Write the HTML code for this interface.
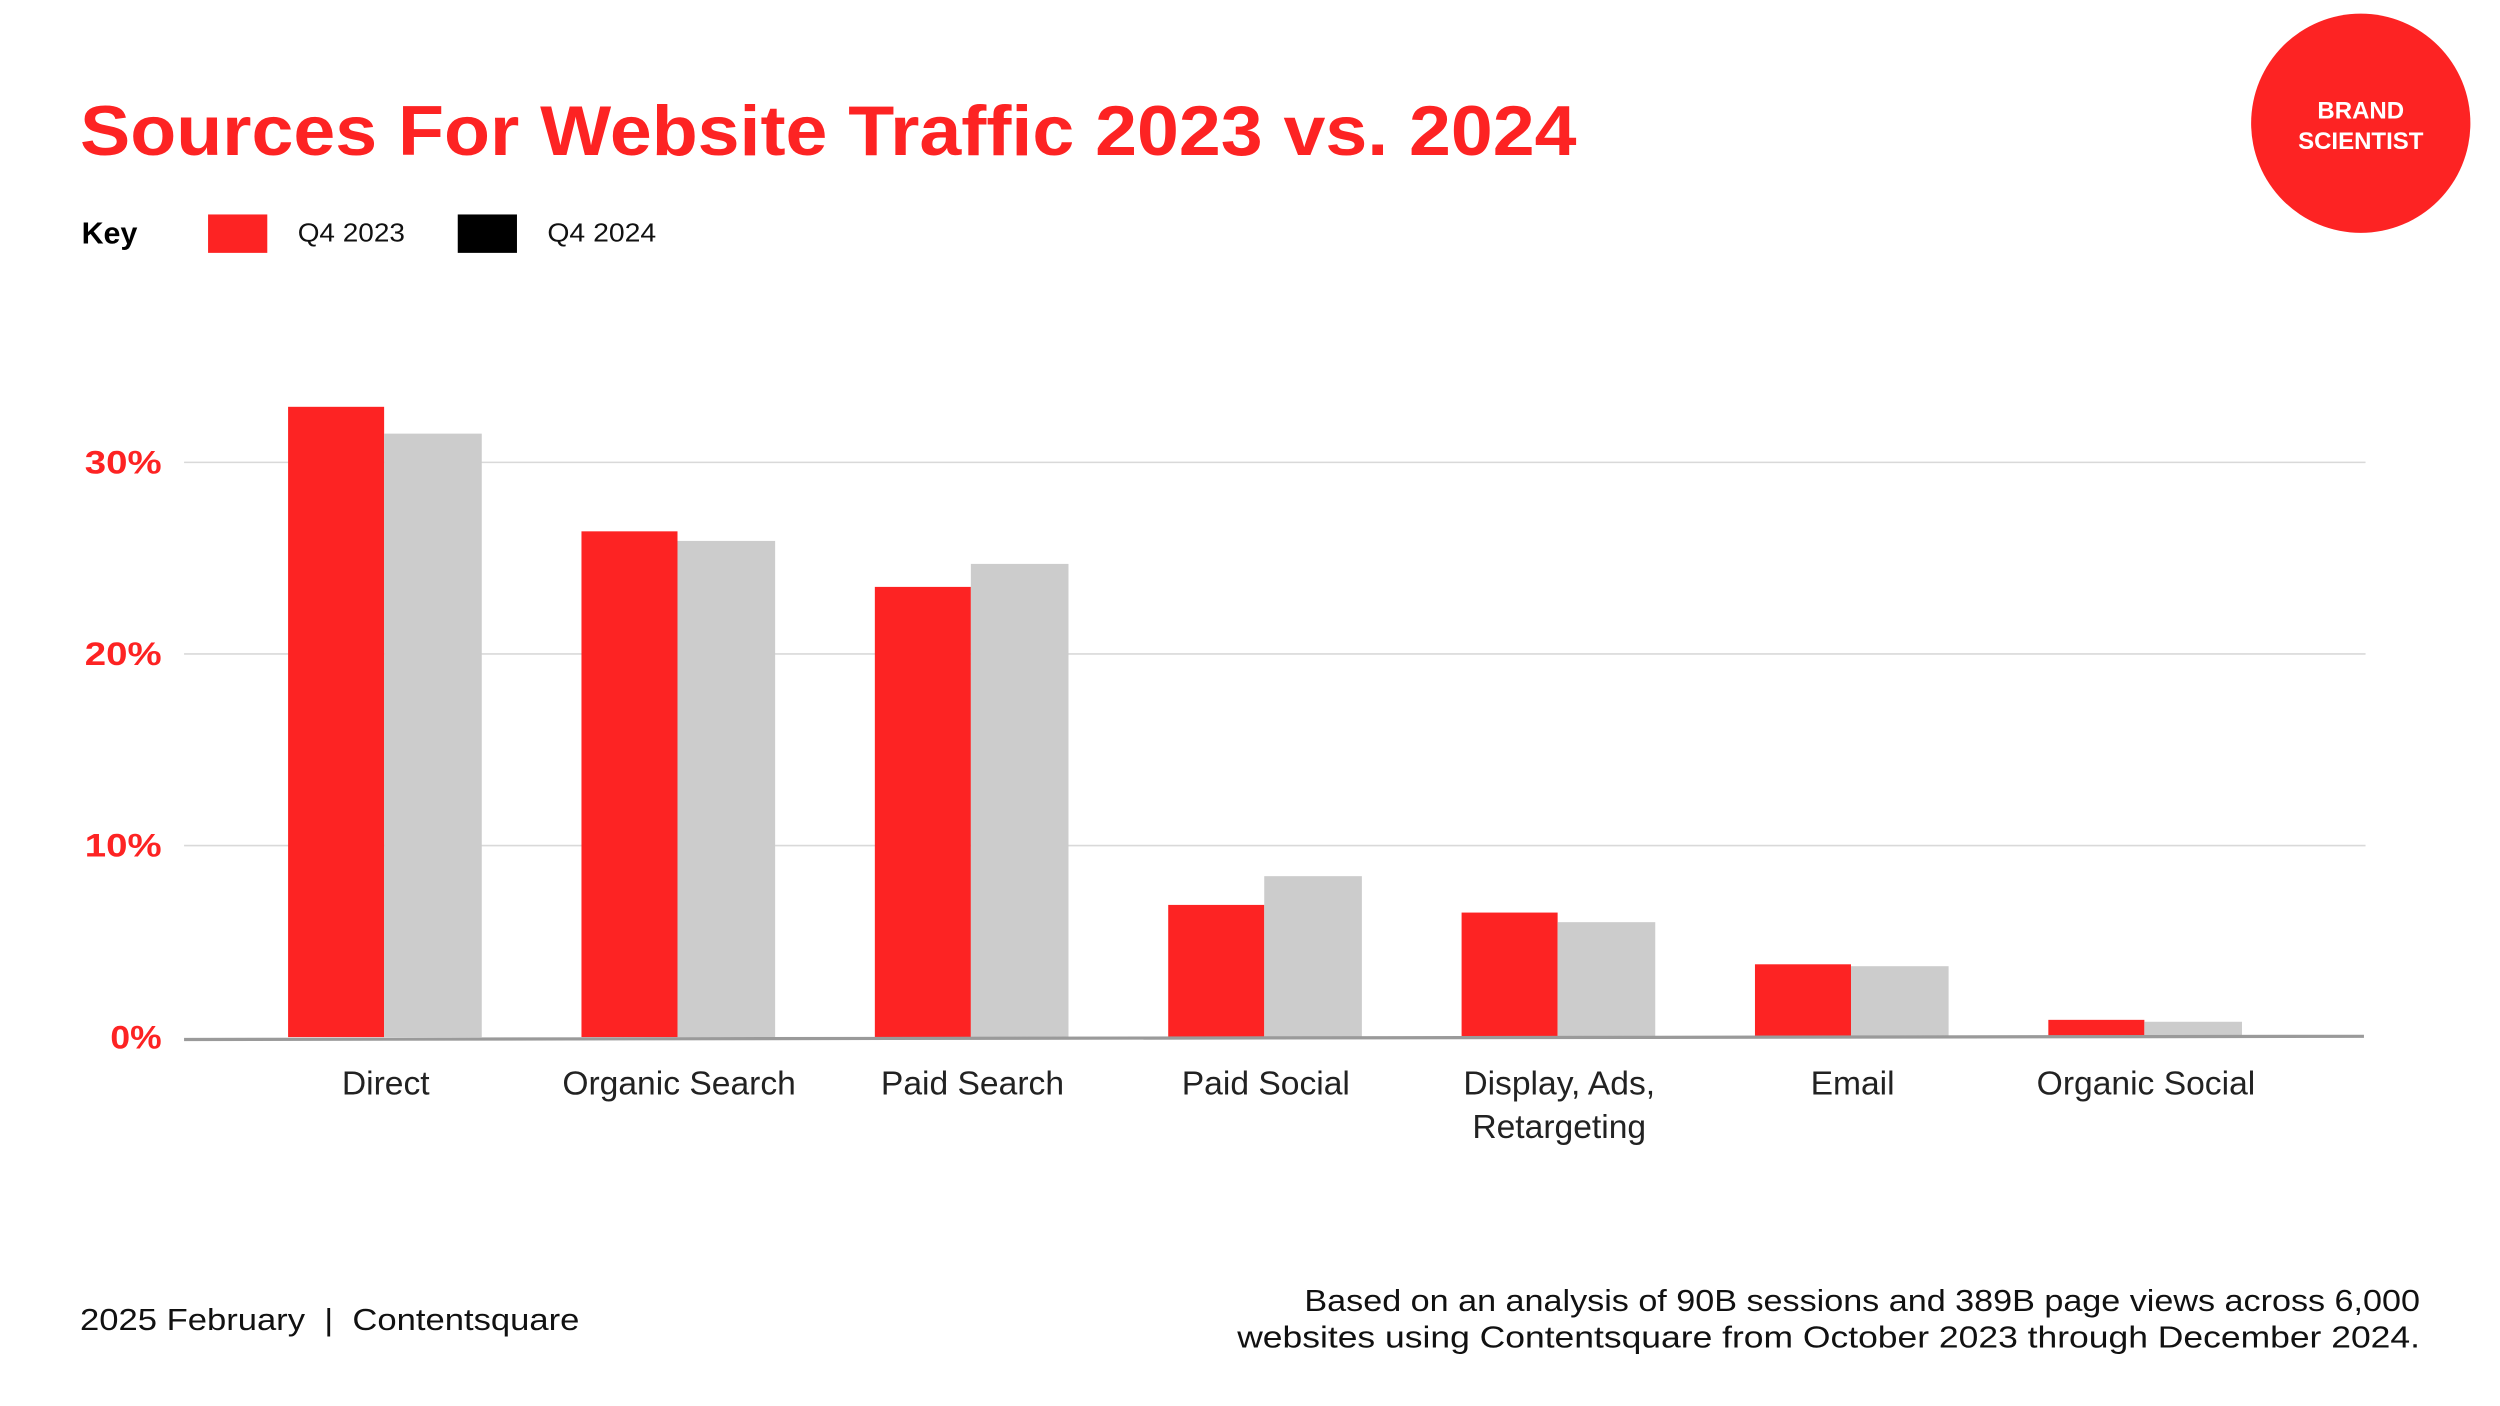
<!DOCTYPE html>
<html><head><meta charset="utf-8"><style>
html,body{margin:0;padding:0;background:#fff;width:2500px;height:1406px;overflow:hidden}
svg{display:block}
text{font-family:"Liberation Sans",sans-serif}
</style></head><body>
<svg id="chart" width="2500" height="1406" viewBox="0 0 1562 878.5" preserveAspectRatio="none" xmlns="http://www.w3.org/2000/svg">
<rect width="1562" height="878.5" fill="#fff"/>
<text x="50" y="97" font-size="44" font-weight="bold" fill="#fd2323" textLength="935" lengthAdjust="spacingAndGlyphs">Sources For Website Traffic 2023 vs. 2024</text>
<g>
<text x="51" y="152" font-size="19" font-weight="bold" fill="#000">Key</text>
<rect x="130" y="134" width="37" height="24" fill="#fd2323"/>
<text x="186" y="151" font-size="16" fill="#111" textLength="67" lengthAdjust="spacingAndGlyphs">Q4 2023</text>
<rect x="286" y="134" width="37" height="24" fill="#000"/>
<text x="342" y="151" font-size="16" fill="#111" textLength="68" lengthAdjust="spacingAndGlyphs">Q4 2024</text>
</g>
<g>
<circle cx="1475" cy="77" r="68.5" fill="#fd2323"/>
<text x="1475" y="74" font-size="15" font-weight="bold" fill="#fff" text-anchor="middle">BRAND</text>
<text x="1475" y="93" font-size="15" font-weight="bold" fill="#fff" text-anchor="middle">SCIENTIST</text>
</g>
<g id="grid"></g>
<g id="bars"></g>
<g id="labels"></g>
<text x="50" y="831" font-size="19" fill="#111" xml:space="preserve" textLength="312" lengthAdjust="spacingAndGlyphs">2025 February  |  Contentsquare</text>
<text x="1512" y="819" font-size="19" fill="#111" text-anchor="end" textLength="697" lengthAdjust="spacingAndGlyphs">Based on an analysis of 90B sessions and 389B page views across 6,000</text>
<text x="1512" y="842" font-size="19" fill="#111" text-anchor="end" textLength="739" lengthAdjust="spacingAndGlyphs">websites using Contentsquare from October 2023 through December 2024.</text>
</svg>
<script>
const categories = ["Direct","Organic Search","Paid Search","Paid Social","Display, Ads,|Retargeting","Email","Organic Social"];
const q42023 = [32.9,26.4,23.5,6.9,6.5,3.8,0.9];
const q42024 = [31.5,25.9,24.7,8.4,6.0,3.7,0.8];
const yTicks = [0,10,20,30];
const yTickLabels = ["0%","10%","20%","30%"];
const NS="http://www.w3.org/2000/svg";
function y(v){return 648 - v*11.97;}
function gx(i){return 180 + i*183.3;}
const BW=60;
function mk(tag,attrs,parent){const e=document.createElementNS(NS,tag);for(const k in attrs)e.setAttribute(k,attrs[k]);parent.appendChild(e);return e;}
const grid=document.getElementById('grid'),bars=document.getElementById('bars'),labels=document.getElementById('labels');
yTicks.forEach((t,i)=>{
  if(t!==0){const l=mk('line',{x1:115,x2:1478,y1:y(t),y2:y(t),stroke:'#d9d9d9','stroke-width':1},grid);
  
  }
  const tx=mk('text',{x:101,y:y(t)+7,'font-size':20,'font-weight':'bold',fill:'#fd2323','text-anchor':'end',textLength:(yTickLabels[i].length*16),lengthAdjust:'spacingAndGlyphs'},labels);
  tx.textContent=yTickLabels[i];
  
  
});
categories.forEach((c,i)=>{
  const x=gx(i);
  const r=mk('rect',{x:x,y:y(q42023[i]),width:BW,height:y(0)-y(q42023[i]),fill:'#fd2323'},bars);
  
  
  const g=mk('rect',{x:x+BW,y:y(q42024[i]),width:BW+1,height:y(0)-y(q42024[i]),fill:'#cccccc'},bars);
  
  
  const lines=c.split('|');
  lines.forEach((ln,j)=>{
    const t=mk('text',{x:x+BW+1,y:684+j*27,'font-size':21,fill:'#222','text-anchor':'middle'},labels);
    t.textContent=ln;
    
    
  });
});
const ax=mk('line',{x1:115,x2:1477,y1:649.5,y2:647.5,stroke:'#9a9a9a','stroke-width':2},bars);


</script>
</body></html>
